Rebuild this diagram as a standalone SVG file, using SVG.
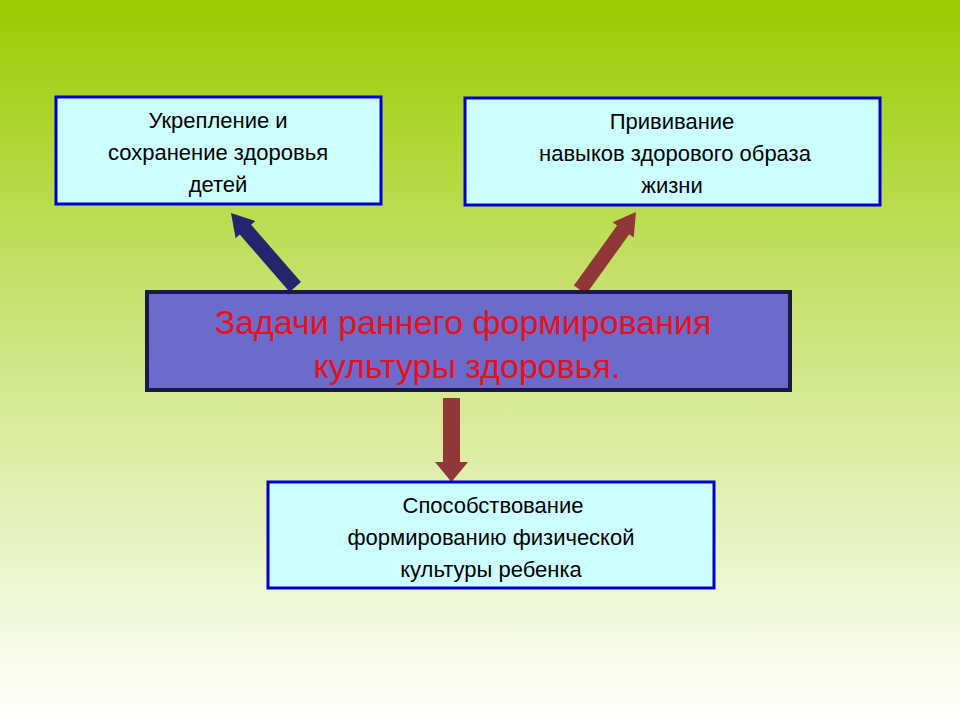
<svg xmlns="http://www.w3.org/2000/svg" width="960" height="720" viewBox="0 0 960 720">
<defs>
<linearGradient id="bg" x1="0" y1="0" x2="0" y2="1">
<stop offset="0" stop-color="#99cc00"/>
<stop offset="0.45" stop-color="#cce47a"/>
<stop offset="1" stop-color="#ffffff"/>
</linearGradient>
<polygon id="arr" points="0,0 13,22 7.5,22 7.5,100 -7.5,100 -7.5,22 -13,22"/>
</defs>
<style>
.box{fill:#ccffff;stroke:#0000cc;stroke-width:3}
.t{font-family:"Liberation Sans",Arial,sans-serif;font-size:22px;fill:#000;text-anchor:middle}
.m{font-family:"Liberation Sans",Arial,sans-serif;font-size:34px;fill:#e8101a;text-anchor:middle}
</style>
<rect width="960" height="720" fill="url(#bg)"/>
<g id="connectors">
<polygon points="0,0 13,22 7.5,22 7.5,98 -7.5,98 -7.5,22 -13,22" fill="#25256e" transform="translate(231,213) rotate(-41)"/>
<polygon points="0,0 13,22 7.5,22 7.5,96 -7.5,96 -7.5,22 -13,22" fill="#903838" transform="translate(636,212) rotate(35.7)"/>
<polygon points="443,398 460,398 460,462 468,462 451.5,482 435,462 443,462" fill="#903838"/>
</g>
<g id="n1"><rect class="box" x="56" y="97" width="325" height="107"/>
<text class="t" x="218" y="128">Укрепление и</text>
<text class="t" x="218" y="160">сохранение здоровья</text>
<text class="t" x="218" y="192">детей</text></g>
<g id="n2"><rect class="box" x="465" y="98" width="415" height="107"/>
<text class="t" x="672" y="129">Прививание</text>
<text class="t" x="675" y="161">навыков здорового образа</text>
<text class="t" x="672" y="193">жизни</text></g>
<g id="center"><rect x="147" y="292" width="643" height="98" fill="#6b6bcc" stroke="#1a1a40" stroke-width="4"/>
<text class="m" x="463" y="334">Задачи раннего формирования</text>
<text class="m" x="467" y="378">культуры здоровья.</text></g>
<g id="n3"><rect class="box" x="268" y="482" width="446" height="106"/>
<text class="t" x="493" y="513">Способствование</text>
<text class="t" x="491" y="545">формированию физической</text>
<text class="t" x="491" y="577">культуры ребенка</text></g>
</svg>
